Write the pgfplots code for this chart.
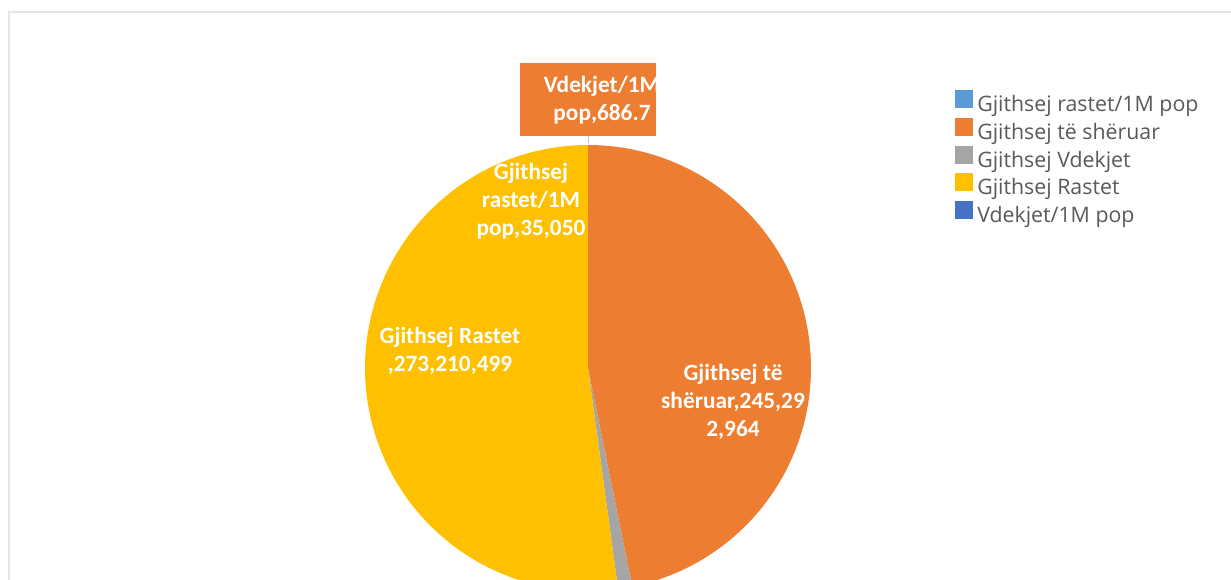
\documentclass[border=0pt]{standalone}
\usepackage{fontspec}
\setmainfont{Carlito}
\newfontfamily\legendfont{Open Sans}
\usepackage{pgfplots}
\pgfplotsset{compat=1.18}

\definecolor{cA}{HTML}{5B9BD5}
\definecolor{cB}{HTML}{ED7D31}
\definecolor{cC}{HTML}{A5A5A5}
\definecolor{cD}{HTML}{FFC000}
\definecolor{cE}{HTML}{4472C4}
\definecolor{lgtext}{HTML}{595959}
\definecolor{frame}{HTML}{E6E6E6}

% slice values (clockwise from 12 o'clock)
\def\vA{35050}      % Gjithsej rastet/1M pop
\def\vB{245292964}  % Gjithsej te sheruar
\def\vC{5354000}    % Gjithsej Vdekjet
\def\vD{273210499}  % Gjithsej Rastet
\def\vE{686.7}      % Vdekjet/1M pop
\edef\vT{\fpeval{\vA+\vB+\vC+\vD+\vE}}
% slice boundary angles
\edef\aA{90}
\edef\aB{\fpeval{\aA-360*\vA/\vT}}
\edef\aC{\fpeval{\aB-360*\vB/\vT}}
\edef\aD{\fpeval{\aC-360*\vC/\vT}}
\edef\aE{\fpeval{\aD-360*\vD/\vT}}
\edef\aF{-270}

% pie centre and radius in pixel units
\def\cx{588}
\def\cy{211}
\def\rr{223}

\begin{document}
\begin{tikzpicture}
\useasboundingbox (0,0) rectangle (923.25pt,434.25pt);
\begin{axis}[
    at={(0,0)}, anchor=origin,
    width=923.25pt, height=434.25pt, scale only axis,
    xmin=0, xmax=1231, ymin=0, ymax=579,
    hide axis, clip=true,
    legend style={at={(axis cs:955,489)}, anchor=north west,
      draw=none, fill=none, inner sep=0pt,
      font=\legendfont\fontsize{16}{19}\selectfont, text=lgtext,
      row sep=0.8pt, column sep=3pt,
      nodes={inner sep=0pt, text height=12pt, text depth=4pt}},
    legend cell align=left,
    legend image code/.code={\fill[#1] (0pt,-1.5pt) rectangle (13.5pt,12pt);},
  ]
  % chart frame
  \draw[frame, line width=1.5pt] (axis cs:9,567) rectangle (axis cs:1300,-50);

  \addplot[fill=cA, draw=none, domain=\aB:\aA, samples=2]
    ({\cx+\rr*cos(x)}, {\cy+\rr*sin(x)}) -- (axis cs:\cx,\cy) -- cycle;
  \addlegendentry{Gjithsej rastet/1M pop}
  \addplot[fill=cB, draw=none, domain=\aC:\aB, samples=120]
    ({\cx+\rr*cos(x)}, {\cy+\rr*sin(x)}) -- (axis cs:\cx,\cy) -- cycle;
  \addlegendentry{Gjithsej të shëruar}
  \addplot[fill=cC, draw=none, domain=\aD:\aC, samples=10]
    ({\cx+\rr*cos(x)}, {\cy+\rr*sin(x)}) -- (axis cs:\cx,\cy) -- cycle;
  \addlegendentry{Gjithsej Vdekjet}
  \addplot[fill=cD, draw=none, domain=\aE:\aD, samples=120]
    ({\cx+\rr*cos(x)}, {\cy+\rr*sin(x)}) -- (axis cs:\cx,\cy) -- cycle;
  \addlegendentry{Gjithsej Rastet}
  \addplot[fill=cE, draw=none, domain=\aF:\aE, samples=2]
    ({\cx+\rr*cos(x)}, {\cy+\rr*sin(x)}) -- (axis cs:\cx,\cy) -- cycle;
  \addlegendentry{Vdekjet/1M pop}

  % data labels
  \node[text=white, font=\bfseries\fontsize{17.5}{21}\selectfont, align=center]
    at (axis cs:531,378) {Gjithsej\\rastet/1M\\pop,35,050};
  \node[text=white, font=\bfseries\fontsize{17.5}{21}\selectfont, align=center]
    at (axis cs:450,228) {Gjithsej Rastet\\,273,210,499};
  \node[text=white, font=\bfseries\fontsize{17.5}{21}\selectfont, align=center]
    at (axis cs:733,177) {Gjithsej të\\shëruar,245,29\\2,964};

  % callout label for the smallest slice
  \draw[gray!50, line width=0.75pt] (axis cs:588,443) -- (axis cs:588,436);
  \fill[cB] (axis cs:520,443) rectangle (axis cs:656,516);
  \begin{scope}
    \clip (axis cs:520,443) rectangle (axis cs:656,516);
    \node[text=white, font=\bfseries\fontsize{17.5}{21}\selectfont, align=center]
      at (axis cs:602,479) {Vdekjet/1M\\pop,686.7};
  \end{scope}
\end{axis}
\end{tikzpicture}
\end{document}
